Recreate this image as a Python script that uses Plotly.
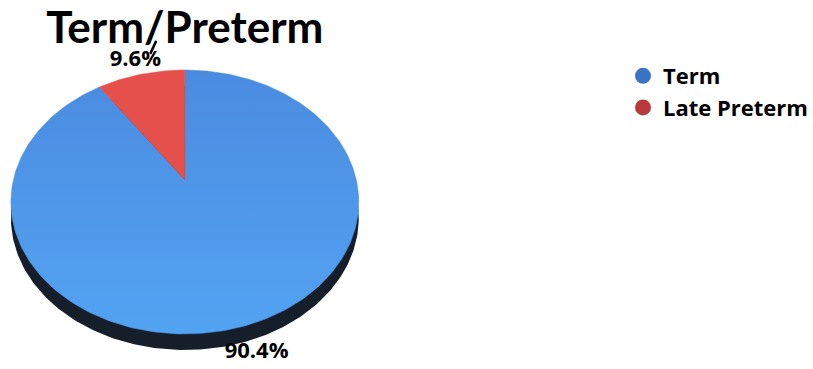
import numpy as np
import plotly.graph_objects as go

# ---- data ----
labels = ["Term", "Late Preterm"]
values = [90.4, 9.6]
title_text = "Term/Preterm"

# ---- style ----
slice_colors = ["#4a8fe2", "#e5504c"]
legend_colors = ["#3b74c2", "#b83a3a"]
rim_color = "#161e29"
W, H = 813, 369

# perspective ellipse geometry (pixel space)
cx = 186.0
far_y, near_y, apex_y = 70.0, 334.0, 180.0
half_w = 175.0
thick = 16.0
# y(v) = (p + q v)/(1 + s v): y(0)=apex, y(1)=far, y(-1)=near
p = apex_y
s = (2 * p - far_y - near_y) / (far_y - near_y)
q = far_y * (1 + s) - p
k = half_w * np.sqrt(1 - s * s)


def proj(theta, r=1.0):
    u = r * np.sin(theta)
    v = r * np.cos(theta)
    den = 1 + s * v
    return cx + k * u / den, (p + q * v) / den


fig = go.Figure()

# rim (side) - full outline shifted down
t = np.linspace(0, 2 * np.pi, 400)
rx, ry = proj(t)
fig.add_trace(go.Scatter(x=rx, y=ry + thick, fill="toself", mode="lines",
                         line=dict(width=0, color=rim_color), fillcolor=rim_color,
                         showlegend=False, hoverinfo="skip"))

fracs = np.array(values) / np.sum(values)
bounds = np.concatenate([[0], np.cumsum(fracs)]) * 2 * np.pi
for i, lab in enumerate(labels):
    tt = np.linspace(bounds[i], bounds[i + 1], 300)
    xs, ys = proj(tt)
    xs = np.concatenate([[cx], xs, [cx]])
    ys = np.concatenate([[apex_y], ys, [apex_y]])
    kw = {}
    if i == 0:
        kw["fillgradient"] = dict(type="vertical",
                                  colorscale=[[0, "#53a3f3"], [1, "#4a8be0"]])
    fig.add_trace(go.Scatter(x=xs, y=ys, fill="toself", mode="lines",
                             line=dict(width=0.5, color=slice_colors[i]),
                             fillcolor=slice_colors[i], showlegend=False,
                             hoverinfo="skip", **kw))

# data labels
mids = (bounds[:-1] + bounds[1:]) / 2
lx, ly = proj(mids, 1.15)
fig.add_trace(go.Scatter(x=lx, y=ly, mode="text",
                         text=[f"{v:.1f}%" for v in values],
                         textfont=dict(family="Open Sans", size=22, color="black", weight="bold"),
                         showlegend=False, hoverinfo="skip"))

# leader line for small slice label
fig.add_shape(type="line", x0=lx[1] + 21, y0=ly[1] - 20, x1=lx[1] + 15, y1=ly[1] - 7,
              line=dict(color="black", width=2.5))

# legend entries
for i, lab in enumerate(labels):
    fig.add_trace(go.Scatter(x=[None], y=[None], mode="markers", name=lab,
                             marker=dict(size=16, color=legend_colors[i])))

fig.update_layout(
    width=W, height=H,
    margin=dict(l=0, r=0, t=0, b=0),
    paper_bgcolor="white", plot_bgcolor="white",
    xaxis=dict(range=[0, W], visible=False, fixedrange=True),
    yaxis=dict(range=[H, 0], visible=False, fixedrange=True),
    title=dict(text="<b>" + title_text + "</b>", x=cx / W, xanchor="center", xref="paper",
               y=1 - 28 / H, yanchor="middle", yref="container",
               font=dict(family="Lato", size=44, color="black")),
    legend=dict(x=627 / W, y=1 - 55 / H, xanchor="left", yanchor="top",
                font=dict(family="Open Sans", size=22, color="black", weight="bold"),
                bgcolor="rgba(0,0,0,0)", tracegroupgap=0),
    showlegend=True,
)

fig.write_html("out.html")
